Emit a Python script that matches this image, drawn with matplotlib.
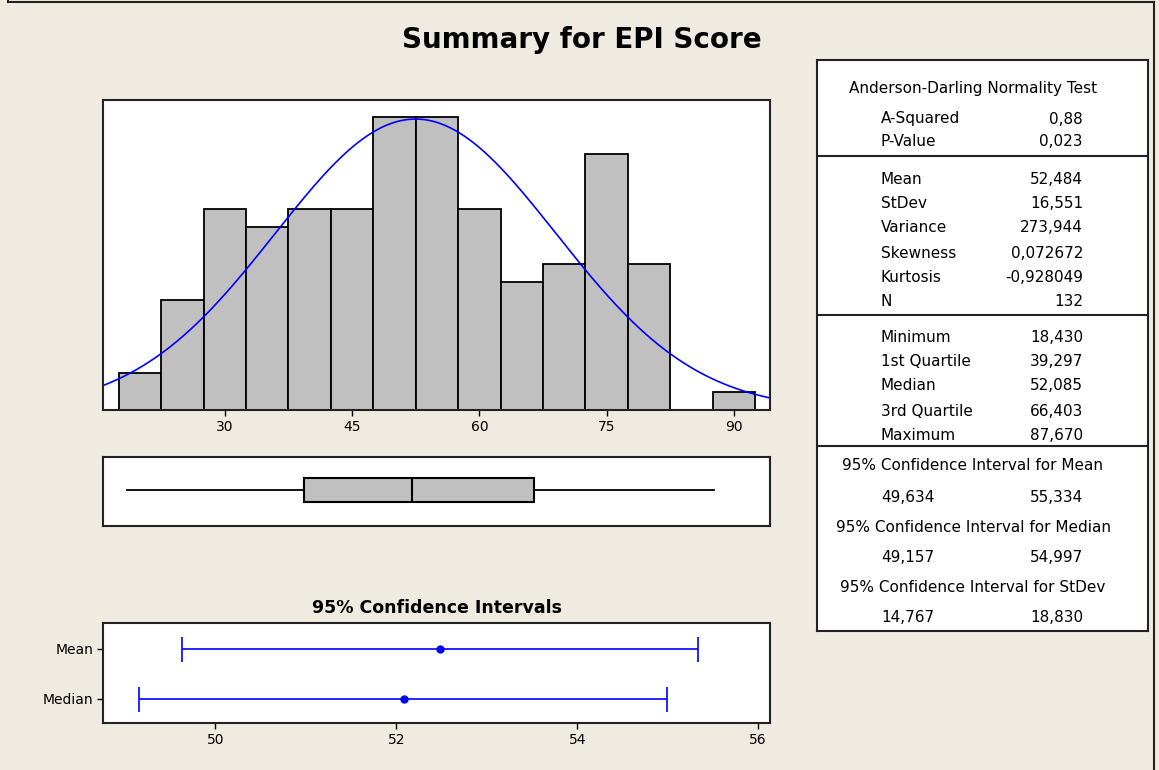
import numpy as np
import matplotlib
matplotlib.use("Agg")
import matplotlib.pyplot as plt
from matplotlib.lines import Line2D

# ---------------- data ----------------
bin_centers = [20, 25, 30, 35, 40, 45, 50, 55, 60, 65, 70, 75, 80, 85, 90]
counts = [2, 6, 11, 10, 11, 11, 16, 16, 11, 7, 8, 14, 8, 0, 1]
bin_width = 5
hist_ticks = [30, 45, 60, 75, 90]

a_squared = 0.88
p_value = 0.023
mean = 52.484
stdev = 16.551
variance = 273.944
skewness = 0.072672
kurtosis = -0.928049
n_obs = 132
minimum = 18.430
q1 = 39.297
median = 52.085
q3 = 66.403
maximum = 87.670
ci_mean = (49.634, 55.334)
ci_median = (49.157, 54.997)
ci_stdev = (14.767, 18.830)
ci_labels = ["Mean", "Median"]
ci_ticks = [50, 52, 54, 56]

# ---------------- style ----------------
W, H = 1159, 770
BG = "#EFEBE1"
GRAY = "#C0C0C0"
TXT_FONT = ["DejaVu Sans"]

fig = plt.figure(figsize=(W / 100, H / 100), dpi=100, facecolor=BG)


def box(l, t, r, b):
    return [l / W, 1 - b / H, (r - l) / W, (b - t) / H]


def fmt(v, d):
    return f"{v:.{d}f}".replace(".", ",")


# outer frame
for xs, ys in [([7.5, 7.5], [0, 1.5]), ([7.5, 1154], [1.5, 1.5]), ([1154, 1154], [1.5, 770])]:
    fig.add_artist(Line2D([x / W for x in xs], [1 - y / H for y in ys],
                          transform=fig.transFigure, color="#222222", lw=1.5))

fig.text(582 / W, 1 - 40 / H, "Summary for EPI Score", ha="center", va="center",
         fontsize=20, fontweight="bold", family=TXT_FONT)

# ---------------- histogram ----------------
ax = fig.add_axes(box(103, 100, 770, 410))
ax.set_facecolor("white")
ax.bar(bin_centers, counts, width=bin_width, color=GRAY, edgecolor="black", linewidth=1.3)
xlim = (15.65, 94.25)
xs = np.linspace(xlim[0], xlim[1], 400)
pdf = n_obs * bin_width / (stdev * np.sqrt(2 * np.pi)) * np.exp(-0.5 * ((xs - mean) / stdev) ** 2)
ax.plot(xs, pdf, color="#0000FF", lw=1.2)
ax.set_xlim(*xlim)
ax.set_ylim(0, 16.95)
ax.set_yticks([])
ax.set_xticks(hist_ticks)
ax.set_xticklabels([str(t) for t in hist_ticks], family=TXT_FONT, fontsize=10)
ax.tick_params(axis="x", length=4, width=1, pad=3)
for s in ax.spines.values():
    s.set_linewidth(1.5)
    s.set_color("#222222")

# ---------------- boxplot ----------------
bx = fig.add_axes(box(103, 457, 770, 526))
bx.set_facecolor("white")
stats = [dict(med=median, q1=q1, q3=q3, whislo=minimum, whishi=maximum, fliers=[])]
bx.bxp(stats, positions=[0], widths=0.70, orientation="horizontal", showcaps=False,
       patch_artist=True,
       boxprops=dict(facecolor=GRAY, edgecolor="black", linewidth=1.5),
       medianprops=dict(color="black", linewidth=1.5),
       whiskerprops=dict(color="black", linewidth=1.3))
bx.set_xlim(*xlim)
bx.set_ylim(-1.05, 0.95)
bx.set_xticks([])
bx.set_yticks([])
for s in bx.spines.values():
    s.set_linewidth(1.5)
    s.set_color("#222222")

# ---------------- confidence intervals ----------------
cx = fig.add_axes(box(103, 623, 770, 723))
cx.set_facecolor("white")
centers = [mean, median]
lows = [ci_mean[0], ci_median[0]]
highs = [ci_mean[1], ci_median[1]]
ypos = [2, 1]
cx.errorbar(centers, ypos,
            xerr=[np.subtract(centers, lows), np.subtract(highs, centers)],
            fmt="o", color="#0000FF", ms=5, capsize=9, elinewidth=1.2, capthick=1.2)
cx.set_xlim(48.76, 56.13)
cx.set_ylim(0.52, 2.52)
cx.set_yticks(ypos)
cx.set_yticklabels(ci_labels, family=TXT_FONT, fontsize=10)
cx.set_xticks(ci_ticks)
cx.set_xticklabels([str(t) for t in ci_ticks], family=TXT_FONT, fontsize=10)
cx.tick_params(length=4, width=1, pad=3)
for s in cx.spines.values():
    s.set_linewidth(1.5)
    s.set_color("#222222")
cx.set_title("95% Confidence Intervals", fontsize=12.5, fontweight="bold",
             family=TXT_FONT, pad=7)

# ---------------- statistics table ----------------
tx = fig.add_axes(box(817, 60, 1148, 631))
tx.set_facecolor("white")
tx.set_xlim(817, 1148)
tx.set_ylim(631, 60)
tx.set_xticks([])
tx.set_yticks([])
for s in tx.spines.values():
    s.set_linewidth(1.5)
    s.set_color("#222222")
for yy in [156, 315, 446]:
    tx.axhline(yy, color="#222222", lw=1.5)

fs = 11
LX, RX, CX = 881, 1083, 973


def row(y, label, value):
    tx.text(LX, y, label, ha="left", va="center", fontsize=fs, family=TXT_FONT)
    tx.text(RX, y, value, ha="right", va="center", fontsize=fs, family=TXT_FONT)


tx.text(CX, 89, "Anderson-Darling Normality Test", ha="center", va="center",
        fontsize=fs, family=TXT_FONT)
row(119, "A-Squared", fmt(a_squared, 2))
row(142, "P-Value", fmt(p_value, 3))
row(179, "Mean", fmt(mean, 3))
row(203, "StDev", fmt(stdev, 3))
row(227, "Variance", fmt(variance, 3))
row(253, "Skewness", fmt(skewness, 6))
row(277, "Kurtosis", fmt(kurtosis, 6))
row(301, "N", str(n_obs))
row(337, "Minimum", fmt(minimum, 3))
row(362, "1st Quartile", fmt(q1, 3))
row(386, "Median", fmt(median, 3))
row(411, "3rd Quartile", fmt(q3, 3))
row(435, "Maximum", fmt(maximum, 3))
for y_title, y_val, name, ci in [(466, 497, "Mean", ci_mean),
                                 (527, 557, "Median", ci_median),
                                 (587, 618, "StDev", ci_stdev)]:
    tx.text(CX, y_title, f"95% Confidence Interval for {name}", ha="center", va="center",
            fontsize=fs, family=TXT_FONT)
    row(y_val, fmt(ci[0], 3), fmt(ci[1], 3))

fig.savefig("out.png", dpi=100, facecolor=BG)
